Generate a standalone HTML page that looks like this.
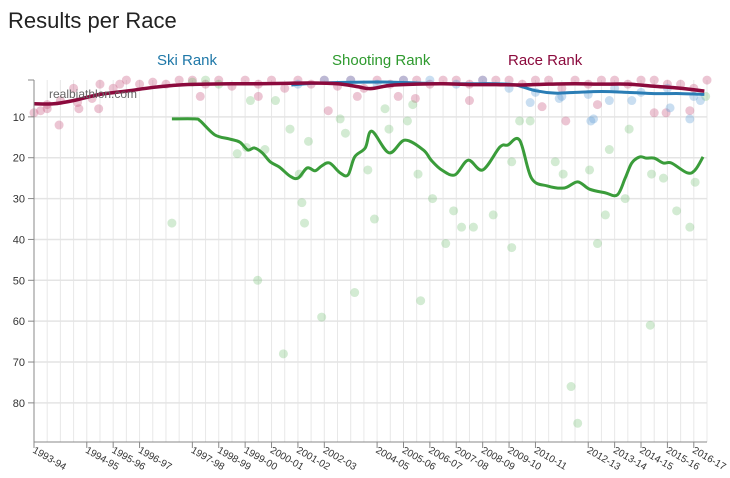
<!DOCTYPE html>
<html><head><meta charset="utf-8"><style>
body{margin:0;background:#fff;font-family:"Liberation Sans",sans-serif}
svg{display:block}
</style></head><body>
<svg id="c" width="730" height="478">
<text x="8" y="28" font-size="22" fill="#222">Results per Race</text>
<text x="157" y="65" font-size="15" fill="#1f78a8">Ski Rank</text>
<text x="332" y="65" font-size="15" fill="#2e9a2e">Shooting Rank</text>
<text x="508" y="65" font-size="15" fill="#8b0a3d">Race Rank</text>
<g id="grid"></g><g id="dots"></g><g id="lines"></g><g id="axes"></g>
<text x="49" y="98" font-size="12" fill="#666">realbiathlon.com</text>
</svg>
<script>
const seasonLabels=["1993-94","1994-95","1995-96","1996-97","1997-98","1998-99","1999-00","2000-01","2001-02","2002-03","2004-05","2005-06","2006-07","2007-08","2008-09","2009-10","2010-11","2012-13","2013-14","2014-15","2015-16","2016-17"];
const seasonPos=[0,4,6,8,12,14,16,18,20,22,26,28,30,32,34,36,38,42,44,46,48,50];
const yTicks=[10,20,30,40,50,60,70,80];
const shootX=[10.45,12.2,12.6,13.7,14.8,15.6,16.2,16.7,17.3,17.9,18.6,19.4,20,20.7,21.3,21.8,22.4,23.2,23.8,24.3,25.1,25.6,26.9,28.1,29.5,30.1,30.9,31.9,32.9,34,35.3,35.9,36.8,37.7,38.9,40.2,41.2,42.1,43.3,44.2,44.8,45.3,45.9,46.4,47,47.7,48.3,49.5,50.1,50.7];
const shootRank=[10.5,10.5,11,14.4,15.4,16.2,18.1,17.6,18.8,21,22.3,24.5,25,22.5,23.2,22,21.3,23.7,24.2,19.8,17.6,13.5,18.8,15.7,18.1,20.6,23,24.2,20.6,23,17.4,16.9,15.7,25,26.9,27.4,25.9,27.7,28.6,29.1,25,21.3,19.8,20.1,20.1,21.3,21.3,23.7,23,19.8];
const raceX=[0,1.5,3,5,7,9,11,13,15,17,19,21,23,24.5,25.5,27,29,31,33,35,37,39,41,43,45,47,49,50.8];
const raceRank=[6.8,6.8,6,4.5,3.7,2.8,2.2,2,1.9,1.9,1.8,1.7,1.9,2.6,3.1,2.3,2,1.9,2.1,2.1,2.2,2,1.9,2,2,2.5,3,3.7];
const skiX=[19.5,21,23,25,27,29,31,33,35,36.5,38,39.5,41,43,45,47,49,50.8];
const skiRank=[2.2,1.8,1.6,1.5,1.5,1.7,1.9,1.9,1.9,2.2,3.6,4.2,4,3.8,4,4.3,4.3,4.5];
const pinkX=[0,0.5,1,1.9,3.4,4.4,4.9,3.3,6.5,12.6,17,22.3,24.5,27.6,28.9,33,40.3,38.5,47,47.9,49.7,42.7,1,2,3,5,6,7,8,9,10,11,12,13,14,15,16,17,18,19,20,21,22,23,24,25,26,27,28,29,30,31,32,33,34,35,36,37,38,39,40,41,42,43,44,45,46,47,48,49,50,51];
const pinkRank=[9,8.5,8,12,8,5.5,8,6.5,2,5,5,8.5,5,5,5.5,6,11,7.5,9,9,8.5,7,7,6,3,2,3,1,2,1.5,2,1,1,2,1,2.5,1,2,1,3,1,2,1,2.5,1,3,1,2,1,1,2,1,1,2,1,1,1,2,1,1,3,1,2,1,1,2,1,1,2,2,3,1];
const greenX=[10.45,16.95,18.9,21.8,24.3,25.8,29.3,31.2,31.8,32.4,33.3,34.8,36.2,40.7,41.2,42.7,43.3,44.8,46.7,48.7,49.7,50.1,17.5,19.4,20.3,20.5,15.4,16.1,18.3,16.4,20.1,20.8,25.3,23.6,23.2,26.9,28.3,28.7,26.6,36.8,36.2,37.6,39.5,40.1,42.1,43.6,45.1,46.8,47.7,50.9,30.2,29.1,14,13,12];
const greenRank=[36,50,68,59,53,35,55,41,33,37,37,34,42,76,85,41,34,30,61,33,37,26,18,13,31,36,19,17.5,6,6,24,16,23,14,10.5,13,11,7,8,11,21,11,21,24,23,18,13,24,25,5,30,24,2,1,1.5];
const blueX=[37.6,39.8,42.2,42.4,43.6,45.3,48.2,49.7,50.5,20,22,24,26,28,30,32,34,36,38,40,42,44,46,48,50];
const blueRank=[6.5,5.5,11,10.5,6,6,7.8,10.5,6,2,1,1,2,1,1,2,1,3,4,5,4.5,3,4,3,5];

const NS="http://www.w3.org/2000/svg";
const X0=34,X1=707,UMAX=51,Y0=76,YK=4.086;
const xs=u=>X0+(X1-X0)*u/UMAX;
const ys=r=>Y0+YK*r;
function mk(tag,attrs,parent){const e=document.createElementNS(NS,tag);for(const k in attrs)e.setAttribute(k,attrs[k]);parent.appendChild(e);return e;}
const grid=document.getElementById('grid'),dots=document.getElementById('dots'),lines=document.getElementById('lines'),axes=document.getElementById('axes');
for(let u=0;u<=UMAX;u++){const l=mk('line',{x1:xs(u),x2:xs(u),y1:80,y2:442,stroke:'#e8e8e8','stroke-width':1},grid);

}
yTicks.forEach(t=>{const l=mk('line',{x1:X0,x2:X1,y1:ys(t),y2:ys(t),stroke:'#e4e4e4','stroke-width':1.5},grid);


const tk=mk('line',{x1:X0-6,x2:X0,y1:ys(t),y2:ys(t),stroke:'#888'},axes);


const tx=mk('text',{x:X0-9,y:ys(t)+4,'font-size':11,fill:'#333','text-anchor':'end'},axes);tx.textContent=t;

});
const ya=mk('line',{x1:X0,x2:X0,y1:80,y2:442,stroke:'#888'},axes);


const tt=mk('line',{x1:X0-6,x2:X0,y1:80,y2:80,stroke:'#888'},axes);


const xa=mk('line',{x1:X0,x2:X1,y1:442,y2:442,stroke:'#888'},axes);


seasonLabels.forEach((s,i)=>{const x=xs(seasonPos[i]);
const tk=mk('line',{x1:x,x2:x,y1:442,y2:448,stroke:'#888'},axes);


const tx=mk('text',{x:x-2,y:452,'font-size':10,fill:'#333',transform:`rotate(30 ${x-2} 452)`},axes);tx.textContent=s;

});
function drawDots(X,R,fill,name){X.forEach((u,i)=>{const c=mk('circle',{cx:xs(u),cy:ys(R[i]),r:4.5,fill:fill},dots);

});}
drawDots(pinkX,pinkRank,'rgba(200,90,130,0.35)','race-rank-dot');
drawDots(greenX,greenRank,'rgba(110,190,110,0.3)','shooting-rank-dot');
drawDots(blueX,blueRank,'rgba(100,160,215,0.35)','ski-rank-dot');
function path(X,R){const p=X.map((u,i)=>[xs(u),ys(R[i])]);let d=`M${p[0][0]},${p[0][1]}`;
for(let i=0;i<p.length-1;i++){const a=p[Math.max(0,i-1)],b=p[i],c=p[i+1],e=p[Math.min(p.length-1,i+2)];
d+=` C${b[0]+(c[0]-a[0])/6},${b[1]+(c[1]-a[1])/6} ${c[0]-(e[0]-b[0])/6},${c[1]-(e[1]-b[1])/6} ${c[0]},${c[1]}`;}return d;}
const g=mk('path',{d:path(shootX,shootRank),fill:'none',stroke:'#3a9c3a','stroke-width':3},lines);


const b=mk('path',{d:path(skiX,skiRank),fill:'none',stroke:'#2a7db5','stroke-width':3},lines);


const r=mk('path',{d:path(raceX,raceRank),fill:'none',stroke:'#8b0a3d','stroke-width':3.5},lines);


</script>
</body></html>
